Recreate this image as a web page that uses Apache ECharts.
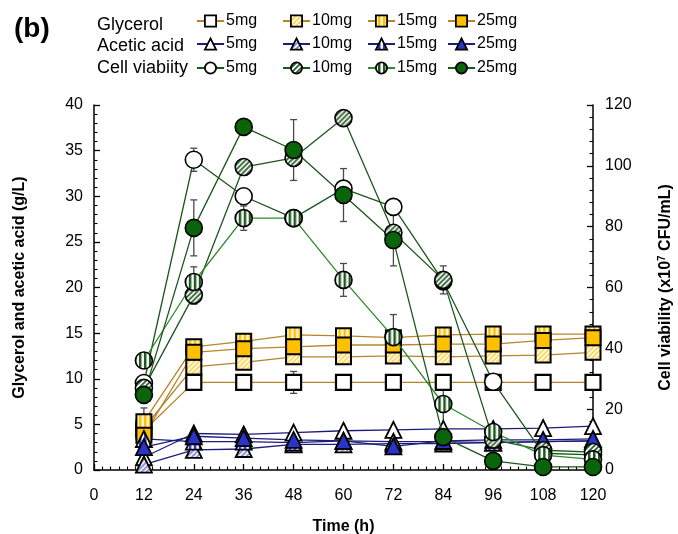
<!DOCTYPE html>
<html><head><meta charset="utf-8">
<script src="https://cdn.jsdelivr.net/npm/echarts@6/dist/echarts.min.js"></script>
<style>html,body{margin:0;padding:0;background:#fff}#c{width:678px;height:534px}</style>
</head><body><div id="c"></div>
<script>
// ---- data ----
const times = [12, 24, 36, 48, 60, 72, 84, 96, 108, 120];
const xTicks = [0, 12, 24, 36, 48, 60, 72, 84, 96, 108, 120];
const leftTicks = [0, 5, 10, 15, 20, 25, 30, 35, 40];
const rightTicks = [0, 20, 40, 60, 80, 100, 120];
const doses = ['5mg', '10mg', '15mg', '25mg'];
const groups = ['Glycerol', 'Acetic acid', 'Cell viability'];
const groupLabels = ['Glycerol', 'Acetic acid', 'Cell viabiity'];

const glycerol5 = [4.3, 9.6, 9.6, 9.6, 9.6, 9.6, 9.6, 9.6, 9.6, 9.6];
const glycerol10 = [4.6, 11.3, 11.8, 12.4, 12.4, 12.5, 12.4, 12.5, 12.6, 12.9];
const glycerol15 = [5.3, 13.5, 14.1, 14.8, 14.7, 14.5, 14.8, 14.9, 14.9, 14.9];
const glycerol25 = [3.8, 12.9, 13.3, 13.5, 13.7, 13.7, 13.8, 13.8, 14.2, 14.5];

const acetic5 = [1.4, 4.0, 3.9, 4.1, 4.3, 4.4, 4.5, 4.5, 4.6, 4.8];
const acetic10 = [0.6, 2.2, 2.3, 2.8, 2.8, 2.9, 2.9, 3.0, 3.1, 3.2];
const acetic15 = [3.4, 3.1, 3.1, 3.0, 3.2, 3.1, 3.1, 3.0, 3.1, 3.2];
const acetic25 = [2.5, 3.7, 3.5, 3.3, 3.2, 2.6, 3.2, 3.3, 3.3, 3.4];

const cell5 = [28.6, 102, 90, 82.8, 92.5, 86.5, 62, 29, 5.5, 5];
const cell10 = [27, 57.5, 99.6, 102.6, 115.7, 78, 62.5, 10, 6.5, 5.9];
const cell15 = [36, 61.8, 82.8, 82.8, 62.5, 43.7, 21.7, 12.5, 4.9, 3.5];
const cell25 = [24.7, 79.6, 112.8, 105.2, 90.4, 75.6, 10.8, 3, 1, 1];

// error bars (0 = none)
const glycerol5Err = [0, 0, 0, 1.2, 0.5, 0, 0, 0, 0, 0];
const glycerol10Err = [0, 0, 0.5, 0.4, 0.4, 0.4, 0.4, 0.4, 0, 0];
const glycerol15Err = [1.5, 0, 0, 0, 0, 0, 0, 0.5, 0.5, 0.5];
const acetic25Err = [0, 0, 0, 0, 0, 0.8, 0.5, 0, 0, 0];
const cell5Err = [1.5, 3.8, 2, 0, 0, 0, 0, 0, 0, 0];
const cell10Err = [0, 3, 0, 0, 0, 0, 4.6, 0, 0, 0];
const cell15Err = [2, 5, 4, 2, 5.4, 7.4, 8.5, 0, 0, 0];
const cell25Err = [0, 9.2, 0, 10, 8.7, 8.5, 0, 0, 0, 0];

// ---- styles ----
const GLY_LINE = '#b5852a', GLY_FILL = '#ffc000', GLY_LIGHT = '#ffd54a';
const ACE_LINE = '#1c1c7c', ACE_FILL = '#2a35c8', ACE_LIGHT = '#7d85d4';
const CEL_LINE = '#1d561d', CEL_LINE2 = '#2c8a2c', CEL_FILL = '#0a650a';
const FONT = 'Liberation Sans, Arial, sans-serif';
const legendCols = [196, 282, 367, 447];
const legendRows = [13, 36, 60];
const labelRows = [16, 37, 59];

function patternCanvas(kind, color, bg) {
  const s = 5;
  const c = document.createElement('canvas');
  c.width = s; c.height = s;
  const g = c.getContext('2d');
  g.fillStyle = bg; g.fillRect(0, 0, s, s);
  g.fillStyle = color; g.strokeStyle = color;
  if (kind === 'v') {
    g.fillRect(0, 0, 2.5, s);
  } else {
    g.lineWidth = 1.8;
    g.beginPath();
    g.moveTo(-1, s + 1); g.lineTo(s + 1, -1);
    g.moveTo(-1, 1); g.lineTo(1, -1);
    g.moveTo(s - 1, s + 1); g.lineTo(s + 1, s - 1);
    g.stroke();
  }
  return c;
}
// symbols are drawn in a 2x2 local box scaled by size/2, so the pattern is scaled back
function fill(kind, color, bg, size) {
  if (!kind) return color;
  const k = size ? 2 / size : 1;
  return { image: patternCanvas(kind, color, bg), repeat: 'repeat', scaleX: k, scaleY: k };
}

const pairs = arr => times.map((t, i) => [t, arr[i]]);

const styles = {};
function lineSeries(name, arr, symbol, size, pat, line, bw, yIdx) {
  styles[name] = { symbol, pat };
  return {
    name, type: 'line', data: pairs(arr), yAxisIndex: yIdx,
    symbol, symbolSize: size, showSymbol: true,
    lineStyle: { color: line, width: 1.3 },
    itemStyle: { color: fill(pat[0], pat[1], pat[2], size), borderColor: '#000', borderWidth: bw },
    emphasis: { disabled: true }, z: yIdx === 1 ? 4 : 3
  };
}

function errSeries(vals, errs, yIdx) {
  const d = [];
  times.forEach((t, i) => { if (errs[i] > 0) d.push([t, vals[i], errs[i]]); });
  return {
    type: 'custom', yAxisIndex: yIdx, data: d, z: 2, silent: true,
    renderItem: (params, api) => {
      const x = api.value(0), y = api.value(1), e = api.value(2);
      const p1 = api.coord([x, y + e]), p2 = api.coord([x, y - e]);
      const st = { stroke: '#4a4a4a', lineWidth: 1.3 };
      return { type: 'group', children: [
        { type: 'line', shape: { x1: p1[0], y1: p1[1], x2: p2[0], y2: p2[1] }, style: st },
        { type: 'line', shape: { x1: p1[0] - 3.5, y1: p1[1], x2: p1[0] + 3.5, y2: p1[1] }, style: st },
        { type: 'line', shape: { x1: p2[0] - 3.5, y1: p2[1], x2: p2[0] + 3.5, y2: p2[1] }, style: st }
      ]};
    }
  };
}

const series = [
  errSeries(glycerol5, glycerol5Err, 0),
  errSeries(glycerol10, glycerol10Err, 0),
  errSeries(glycerol15, glycerol15Err, 0),
  errSeries(acetic25, acetic25Err, 0),
  errSeries(cell5, cell5Err, 1),
  errSeries(cell10, cell10Err, 1),
  errSeries(cell15, cell15Err, 1),
  errSeries(cell25, cell25Err, 1),
  lineSeries('Glycerol 5mg', glycerol5, 'rect', 15, [null, '#ffffff'], GLY_LINE, 2.2, 0),
  lineSeries('Glycerol 10mg', glycerol10, 'rect', 15, ['d', GLY_LIGHT, '#ffffff'], GLY_LINE, 2, 0),
  lineSeries('Glycerol 15mg', glycerol15, 'rect', 15, ['v', GLY_FILL, '#fff6d0'], GLY_LINE, 2, 0),
  lineSeries('Glycerol 25mg', glycerol25, 'rect', 15, [null, GLY_FILL], GLY_LINE, 2, 0),
  lineSeries('Acetic acid 5mg', acetic5, 'triangle', 16, [null, '#ffffff'], ACE_LINE, 1.8, 0),
  lineSeries('Acetic acid 10mg', acetic10, 'triangle', 16, ['d', ACE_LIGHT, '#ffffff'], ACE_LINE, 1.8, 0),
  lineSeries('Acetic acid 15mg', acetic15, 'triangle', 16, ['v', ACE_FILL, '#ffffff'], ACE_LINE, 1.8, 0),
  lineSeries('Acetic acid 25mg', acetic25, 'triangle', 16, [null, ACE_FILL], ACE_LINE, 1.8, 0),
  lineSeries('Cell viability 5mg', cell5, 'circle', 17, [null, '#ffffff'], CEL_LINE, 1.6, 1),
  lineSeries('Cell viability 10mg', cell10, 'circle', 17, ['d', '#2f5f2f', '#ffffff'], CEL_LINE, 1.6, 1),
  lineSeries('Cell viability 15mg', cell15, 'circle', 17, ['v', '#1d561d', '#ffffff'], CEL_LINE2, 1.6, 1),
  lineSeries('Cell viability 25mg', cell25, 'circle', 17, [null, CEL_FILL], CEL_LINE, 1.6, 1)
];

const legends = [];
groups.forEach((g, r) => {
  doses.forEach((d, c) => {
    const n = g + ' ' + d, s = styles[n];
    legends.push({
      data: [{ name: n, itemStyle: { color: fill(s.pat[0], s.pat[1], s.pat[2], 0), borderColor: '#000', borderWidth: 1.8 } }],
      left: legendCols[c], top: legendRows[r], orient: 'horizontal',
      padding: 0, itemWidth: 27, itemHeight: 14, selectedMode: false,
      formatter: nm => nm.split(' ').pop(),
      textStyle: { fontSize: 16, fontFamily: FONT, color: '#000', padding: [0, 0, 0, -3] }
    });
  });
});

const axisCommon = {
  axisLine: { show: true, lineStyle: { color: '#000', width: 1.5 } },
  axisTick: { show: true, inside: true, length: 6, lineStyle: { color: '#000', width: 1.3 } },
  minorTick: { show: true, length: 3.5, lineStyle: { color: '#000', width: 1.1 } },
  splitLine: { show: false },
  axisLabel: { fontSize: 16, fontFamily: FONT, color: '#000' },
  nameTextStyle: { fontSize: 16, fontWeight: 'bold', fontFamily: FONT, color: '#000' }
};

const option = {
  animation: false,
  backgroundColor: '#fff',
  grid: { left: 94, right: 85, top: 105, bottom: 64, containLabel: false, outerBoundsMode: 'none' },
  legend: legends,
  graphic: [
    { type: 'text', left: 14, top: 15, style: { text: '(b)', font: 'bold 28px ' + FONT, fill: '#000' } }
  ].concat(groupLabels.map((t, i) => ({
    type: 'text', left: 97, top: labelRows[i], style: { text: t, font: '18px ' + FONT, fill: '#000' }
  }))),
  xAxis: Object.assign({}, axisCommon, {
    type: 'value', min: xTicks[0], max: xTicks[xTicks.length - 1], interval: 12,
    minorTick: Object.assign({}, axisCommon.minorTick, { splitNumber: 6 }),
    axisLabel: Object.assign({}, axisCommon.axisLabel, { margin: 18 }),
    name: 'Time (h)', nameLocation: 'middle', nameGap: 49
  }),
  yAxis: [
    Object.assign({}, axisCommon, {
      type: 'value', min: leftTicks[0], max: leftTicks[leftTicks.length - 1], interval: 5,
      minorTick: Object.assign({}, axisCommon.minorTick, { splitNumber: 5 }),
      axisLabel: Object.assign({}, axisCommon.axisLabel, { margin: 11 }),
      name: 'Glycerol and acetic acid (g/L)', nameLocation: 'middle', nameGap: 66, nameRotate: 90
    }),
    Object.assign({}, axisCommon, {
      type: 'value', position: 'right', min: rightTicks[0], max: rightTicks[rightTicks.length - 1], interval: 20,
      minorTick: Object.assign({}, axisCommon.minorTick, { splitNumber: 5 }),
      axisLabel: Object.assign({}, axisCommon.axisLabel, { margin: 12 }),
      name: 'Cell viability (x10{sup|7} CFU/mL)', nameLocation: 'middle', nameGap: 64, nameRotate: 90,
      nameTextStyle: Object.assign({}, axisCommon.nameTextStyle, {
        rich: { sup: { fontSize: 10, fontWeight: 'bold', fontFamily: FONT, verticalAlign: 'top', padding: [0, 0, 8, 0] } }
      })
    })
  ],
  series
};

const chart = echarts.init(document.getElementById('c'), null, { renderer: 'canvas' });
chart.setOption(option);
</script>
</body></html>
